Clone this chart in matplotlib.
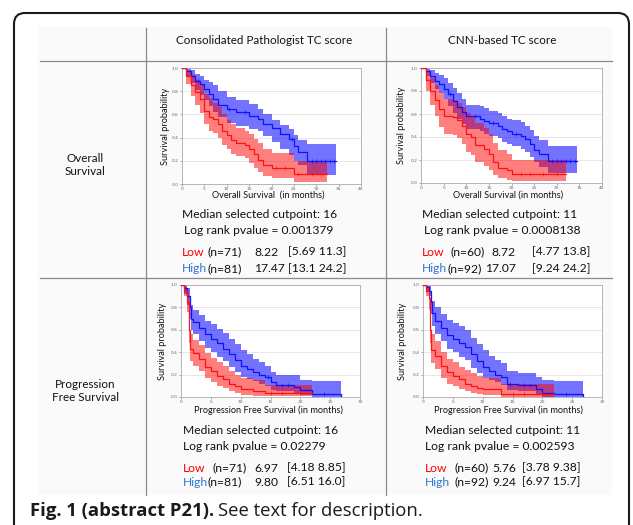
import numpy as np
import matplotlib
matplotlib.use("Agg")
import matplotlib.pyplot as plt
from matplotlib.patches import FancyBboxPatch, Rectangle
from matplotlib.lines import Line2D
from matplotlib.transforms import IdentityTransform

# ---------------- data ----------------
col_titles = ["Consolidated Pathologist TC score", "CNN-based TC score"]
row_titles = ["Overall\nSurvival", "Progression\nFree Survival"]
xlabels = ["Overall Survival  (in months)", "Overall Survival (in months)",
           "Progression Free Survival (in months)", "Progression Free Survival (in months)"]
xmax = [40, 40, 30, 30]

# Plot 1: OS, pathologist
p1_hi_t = [0, 1, 2, 3, 4, 5, 6, 7, 8, 10, 12, 15, 17, 18, 20, 22, 24, 25, 26, 28, 34.5]
p1_hi_s = [1.0, 0.97, 0.93, 0.89, 0.86, 0.82, 0.78, 0.735, 0.68, 0.65, 0.62, 0.59, 0.56, 0.52, 0.48, 0.43, 0.39, 0.33, 0.28, 0.195, 0.195]
p1_hi_u = [1.0, 1.0, 0.98, 0.95, 0.93, 0.90, 0.88, 0.85, 0.80, 0.75, 0.72, 0.69, 0.65, 0.60, 0.55, 0.51, 0.47, 0.42, 0.38, 0.345, 0.345]
p1_hi_l = [1.0, 0.93, 0.87, 0.81, 0.77, 0.72, 0.67, 0.62, 0.58, 0.53, 0.50, 0.47, 0.46, 0.41, 0.36, 0.30, 0.25, 0.20, 0.16, 0.08, 0.08]
p1_lo_t = [0, 1, 2, 3, 4, 5, 6, 7, 8, 9, 10, 11, 12, 14, 15, 16, 17, 18, 20, 25, 32.5]
p1_lo_s = [1.0, 0.93, 0.85, 0.79, 0.73, 0.63, 0.58, 0.56, 0.52, 0.46, 0.42, 0.38, 0.35, 0.34, 0.30, 0.26, 0.21, 0.16, 0.135, 0.085, 0.085]
p1_lo_u = [1.0, 0.98, 0.94, 0.90, 0.85, 0.78, 0.74, 0.70, 0.66, 0.60, 0.55, 0.52, 0.48, 0.46, 0.43, 0.39, 0.35, 0.30, 0.27, 0.20, 0.20]
p1_lo_l = [1.0, 0.86, 0.76, 0.68, 0.61, 0.52, 0.46, 0.44, 0.40, 0.34, 0.30, 0.26, 0.24, 0.22, 0.18, 0.14, 0.10, 0.07, 0.05, 0.02, 0.02]

# Plot 2: OS, CNN
p2_hi_t = [0, 1, 2, 3, 4, 5, 6, 7, 8, 9, 10, 13, 14, 15, 17, 18, 19, 20, 22, 23, 24, 25, 26, 28, 34.5]
p2_hi_s = [1.0, 0.97, 0.93, 0.89, 0.86, 0.82, 0.77, 0.71, 0.66, 0.62, 0.58, 0.56, 0.54, 0.52, 0.50, 0.47, 0.45, 0.43, 0.41, 0.38, 0.34, 0.29, 0.25, 0.195, 0.195]
p2_hi_u = [1.0, 1.0, 0.98, 0.96, 0.94, 0.91, 0.87, 0.83, 0.78, 0.73, 0.68, 0.67, 0.65, 0.63, 0.61, 0.58, 0.56, 0.55, 0.53, 0.50, 0.46, 0.41, 0.37, 0.32, 0.32]
p2_hi_l = [1.0, 0.93, 0.87, 0.82, 0.78, 0.73, 0.67, 0.61, 0.56, 0.51, 0.47, 0.45, 0.43, 0.41, 0.39, 0.36, 0.34, 0.32, 0.30, 0.27, 0.23, 0.18, 0.14, 0.09, 0.09]
p2_lo_t = [0, 1, 2, 3, 4, 5, 7, 8, 9, 10, 11, 12, 14, 15, 16, 17, 19, 20, 32]
p2_lo_s = [1.0, 0.90, 0.80, 0.72, 0.64, 0.58, 0.57, 0.55, 0.50, 0.43, 0.40, 0.33, 0.30, 0.25, 0.18, 0.13, 0.11, 0.075, 0.075]
p2_lo_u = [1.0, 0.97, 0.91, 0.85, 0.78, 0.73, 0.72, 0.70, 0.66, 0.61, 0.57, 0.52, 0.48, 0.43, 0.35, 0.29, 0.25, 0.20, 0.18]
p2_lo_l = [1.0, 0.80, 0.68, 0.58, 0.49, 0.43, 0.42, 0.39, 0.34, 0.27, 0.24, 0.18, 0.15, 0.11, 0.07, 0.04, 0.03, 0.02, 0.01]

# Plot 3: PFS, pathologist
p3_hi_t = [0, 0.5, 1, 1.5, 1.7, 2, 3, 4, 5, 6, 7, 8, 9, 10, 11, 12, 13, 14, 15, 16, 19, 20, 22, 26.8]
p3_hi_s = [1.0, 0.97, 0.90, 0.80, 0.70, 0.67, 0.62, 0.56, 0.52, 0.48, 0.43, 0.38, 0.33, 0.28, 0.25, 0.22, 0.20, 0.18, 0.13, 0.11, 0.085, 0.06, 0.03, 0.0]
p3_hi_u = [1.0, 1.0, 0.97, 0.90, 0.82, 0.78, 0.73, 0.68, 0.65, 0.61, 0.57, 0.52, 0.47, 0.42, 0.38, 0.34, 0.31, 0.28, 0.22, 0.20, 0.20, 0.15, 0.14, 0.0]
p3_hi_l = [1.0, 0.92, 0.82, 0.70, 0.60, 0.56, 0.50, 0.44, 0.40, 0.36, 0.32, 0.27, 0.22, 0.18, 0.16, 0.14, 0.12, 0.10, 0.06, 0.05, 0.03, 0.015, 0.0, 0.0]
p3_lo_t = [0, 0.5, 1, 1.3, 1.5, 2, 3, 4, 5, 6, 7, 8, 9, 10, 12, 14, 22]
p3_lo_s = [1.0, 0.95, 0.85, 0.60, 0.43, 0.39, 0.34, 0.27, 0.23, 0.19, 0.16, 0.12, 0.10, 0.07, 0.05, 0.035, 0.035]
p3_lo_u = [1.0, 0.99, 0.95, 0.74, 0.56, 0.51, 0.46, 0.39, 0.35, 0.31, 0.28, 0.23, 0.20, 0.17, 0.15, 0.11, 0.11]
p3_lo_l = [1.0, 0.90, 0.76, 0.48, 0.32, 0.28, 0.23, 0.17, 0.13, 0.10, 0.08, 0.05, 0.04, 0.02, 0.01, 0.005, 0.005]

# Plot 4: PFS, CNN
p4_hi_t = [0, 0.5, 1, 1.3, 1.5, 2, 3, 4, 5, 6, 7, 8, 9, 10, 11, 12, 13, 14, 16, 19, 20, 22, 26.8]
p4_hi_s = [1.0, 0.98, 0.95, 0.85, 0.75, 0.68, 0.62, 0.55, 0.52, 0.48, 0.45, 0.38, 0.32, 0.27, 0.23, 0.20, 0.18, 0.12, 0.11, 0.07, 0.04, 0.03, 0.0]
p4_hi_u = [1.0, 1.0, 0.99, 0.95, 0.86, 0.80, 0.74, 0.69, 0.66, 0.63, 0.60, 0.53, 0.47, 0.42, 0.37, 0.33, 0.30, 0.23, 0.21, 0.18, 0.15, 0.14, 0.0]
p4_hi_l = [1.0, 0.95, 0.90, 0.74, 0.63, 0.56, 0.50, 0.43, 0.40, 0.36, 0.33, 0.26, 0.21, 0.17, 0.15, 0.13, 0.11, 0.06, 0.05, 0.02, 0.0, 0.0, 0.0]
p4_lo_t = [0, 0.5, 1, 1.2, 1.4, 2, 3, 4, 5, 6, 7, 8, 9, 10, 13, 22]
p4_lo_s = [1.0, 0.95, 0.88, 0.60, 0.42, 0.37, 0.28, 0.22, 0.19, 0.16, 0.12, 0.10, 0.08, 0.07, 0.03, 0.03]
p4_lo_u = [1.0, 0.99, 0.96, 0.72, 0.56, 0.50, 0.40, 0.34, 0.31, 0.27, 0.24, 0.21, 0.19, 0.17, 0.12, 0.12]
p4_lo_l = [1.0, 0.90, 0.78, 0.48, 0.30, 0.25, 0.17, 0.12, 0.10, 0.07, 0.05, 0.04, 0.03, 0.02, 0.0, 0.0]

# censor times (small + marks)
p1_hi_c = [3.5, 10.5, 14, 24.5, 29, 30, 31, 32, 33, 34]
p1_lo_c = [21, 23, 26, 29]
p2_hi_c = [6.5, 12, 16, 21, 29, 30, 31, 32, 33, 34]
p2_lo_c = [22, 24, 27, 30]
p3_hi_c = [14.5, 17, 18, 24]
p3_lo_c = [15, 17, 20]
p4_hi_c = [14.5, 17, 18, 24]
p4_lo_c = [15, 17, 20]

cutpoints = ["16", "11", "16", "11"]
pvalues = ["0.001379", "0.0008138", "0.02279", "0.002593"]
n_low = ["71", "60", "71", "60"]
n_high = ["81", "92", "81", "92"]
med_low = ["8.22", "8.72", "6.97", "5.76"]
med_high = ["17.47", "17.07", "9.80", "9.24"]
ci_low = ["[5.69 11.3]", "[4.77 13.8]", "[4.18 8.85]", "[3.78 9.38]"]
ci_high = ["[13.1 24.2]", "[9.24 24.2]", "[6.51 16.0]", "[6.97 15.7]"]

curves = [
    ((p1_hi_t, p1_hi_s, p1_hi_u, p1_hi_l, p1_hi_c), (p1_lo_t, p1_lo_s, p1_lo_u, p1_lo_l, p1_lo_c)),
    ((p2_hi_t, p2_hi_s, p2_hi_u, p2_hi_l, p2_hi_c), (p2_lo_t, p2_lo_s, p2_lo_u, p2_lo_l, p2_lo_c)),
    ((p3_hi_t, p3_hi_s, p3_hi_u, p3_hi_l, p3_hi_c), (p3_lo_t, p3_lo_s, p3_lo_u, p3_lo_l, p3_lo_c)),
    ((p4_hi_t, p4_hi_s, p4_hi_u, p4_hi_l, p4_hi_c), (p4_lo_t, p4_lo_s, p4_lo_u, p4_lo_l, p4_lo_c)),
]

# ---------------- layout ----------------
W, H = 633, 525
fig = plt.figure(figsize=(W / 100, H / 100), dpi=100)
fig.patch.set_facecolor("white")
FONT = ["Lato", "DejaVu Sans"]
TXT = "#111111"


def fx(x):
    return x / W


def fy(y):
    return 1 - y / H


def ftext(x, y, s, **kw):
    kw.setdefault("family", FONT)
    kw.setdefault("color", TXT)
    kw.setdefault("va", "center")
    return fig.text(fx(x), fy(y), s, **kw)


# outer rounded box
box = FancyBboxPatch((14, -30), 615, H - 13 + 30,
                     boxstyle="round,pad=0,rounding_size=11",
                     transform=IdentityTransform(), facecolor="white",
                     edgecolor="#1a1a1a", linewidth=1.5, zorder=-3)
fig.add_artist(box)
# table background
fig.add_artist(Rectangle((38, H - 495), 574, 468, transform=IdentityTransform(),
                         facecolor="#fafafa", edgecolor="none", zorder=-2))
# table lines
lc = "#8a8a8a"
for yy in (61, 278):
    fig.add_artist(Line2D([fx(40), fx(612)], [fy(yy), fy(yy)], color=lc, lw=0.9, zorder=-1))
for xx in (146, 386):
    fig.add_artist(Line2D([fx(xx), fx(xx)], [fy(28), fy(495)], color=lc, lw=0.9, zorder=-1))

# headers
HFS = 8.4
ftext(264, 41, col_titles[0], ha="center", fontsize=HFS)
ftext(502, 41, col_titles[1], ha="center", fontsize=HFS)
ftext(85, 165, row_titles[0], ha="center", fontsize=HFS, linespacing=1.3)
ftext(85, 391, row_titles[1], ha="center", fontsize=HFS, linespacing=1.3)

# axes boxes (left, right, top, bottom) in px
ax_px = [(182, 361, 68, 184), (421, 602, 68, 183), (181, 360, 285, 397), (423, 602, 285, 397)]
ylab_x = [165, 402, 163, 403]
xlab_pos = [(268, 195), (508, 195), (268, 410), (508, 410)]

BLUE_LINE = "#1111ff"
RED_LINE = "#ff1111"

for i, (l, r, t, b) in enumerate(ax_px):
    ax = fig.add_axes([fx(l), fy(b), (r - l) / W, (b - t) / H])
    ax.set_facecolor("white")
    hi, lo = curves[i]
    for (tt, ss, uu, ll, cc), fcol, alp in ((hi, "#0000ff", 0.55), (lo, "#ff0000", 0.5)):
        tt = np.array(tt, float)
        ax.fill_between(tt, ll, uu, step="post", color=fcol, alpha=alp, lw=0, zorder=2)
    for (tt, ss, uu, ll, cc), lcol in ((hi, BLUE_LINE), (lo, RED_LINE)):
        tt = np.array(tt, float)
        ss = np.array(ss, float)
        ax.step(tt, ss, where="post", color=lcol, lw=0.9, zorder=3)
        cc = np.array(cc, float)
        idx = np.searchsorted(tt, cc, side="right") - 1
        ax.plot(cc, ss[idx], ls="none", marker="+", ms=2.2, mew=0.5, color=lcol, zorder=4)
    ax.set_xlim(0, xmax[i])
    ax.set_ylim(0, 1.0)
    ax.set_yticks(np.arange(0, 1.01, 0.2))
    ax.set_yticklabels([f"{v:.1f}" for v in np.arange(0, 1.01, 0.2)])
    ax.set_xticks(np.arange(0, xmax[i] + 0.1, 5))
    ax.tick_params(labelsize=3.2, colors="#666666", length=1.5, width=0.4, pad=1)
    ax.yaxis.grid(True, color="#e3e3e3", lw=0.6)
    ax.set_axisbelow(True)
    for sp in ax.spines.values():
        sp.set_color("#b5b5b5")
        sp.set_linewidth(0.7)
    ftext(ylab_x[i], (t + b) / 2, "Survival probability", rotation=90, ha="center",
          fontsize=6.6)
    ftext(xlab_pos[i][0], xlab_pos[i][1], xlabels[i], ha="center", fontsize=6.6)

# stats blocks
LOWC = "#ff0000"
HIGHC = "#2f78d0"
blocks = [
    dict(x=182, x2=184, y=(215, 231, 252, 269), n=(208, 208), med=(254, "left"), ci=288),
    dict(x=422, x2=424, y=(215, 231, 252, 269), n=(451, 447), med=(516, "right"), ci=532),
    dict(x=183, x2=183, y=(431, 446, 468, 482), n=(213, 208), med=(254, "left"), ci=287),
    dict(x=425, x2=425, y=(431, 446, 468, 482), n=(455, 455), med=(492, "left"), ci=522),
]
FS = 8.7
for i, bk in enumerate(blocks):
    y1, y2, y3, y4 = bk["y"]
    ftext(bk["x"], y1, f"Median selected cutpoint: {cutpoints[i]}", fontsize=FS)
    ftext(bk["x2"], y2, f"Log rank pvalue = {pvalues[i]}", fontsize=FS)
    ftext(bk["x"], y3, "Low", fontsize=FS, color=LOWC)
    ftext(bk["x"], y4, "High", fontsize=FS, color=HIGHC)
    ftext(bk["n"][0], y3, f"(n={n_low[i]})", fontsize=FS)
    ftext(bk["n"][1], y4, f"(n={n_high[i]})", fontsize=FS)
    ftext(bk["med"][0], y3, med_low[i], fontsize=FS, ha=bk["med"][1])
    ftext(bk["med"][0], y4, med_high[i], fontsize=FS, ha=bk["med"][1])
    ftext(bk["ci"], y3, ci_low[i], fontsize=FS)
    ftext(bk["ci"], y4, ci_high[i], fontsize=FS)

# caption
cap_font = ["Open Sans", "DejaVu Sans"]
t1 = ftext(30, 511, "Fig. 1 (abstract P21).", fontsize=13.3, weight="bold",
           family=cap_font, color="#1a1a1a")
fig.canvas.draw()
bb = t1.get_window_extent(renderer=fig.canvas.get_renderer())
fig.text(bb.x1 / W + 4 / W, fy(511), "See text for description.", fontsize=13.3,
         family=cap_font, color="#1a1a1a", va="center")

fig.savefig("out.png", dpi=100)
